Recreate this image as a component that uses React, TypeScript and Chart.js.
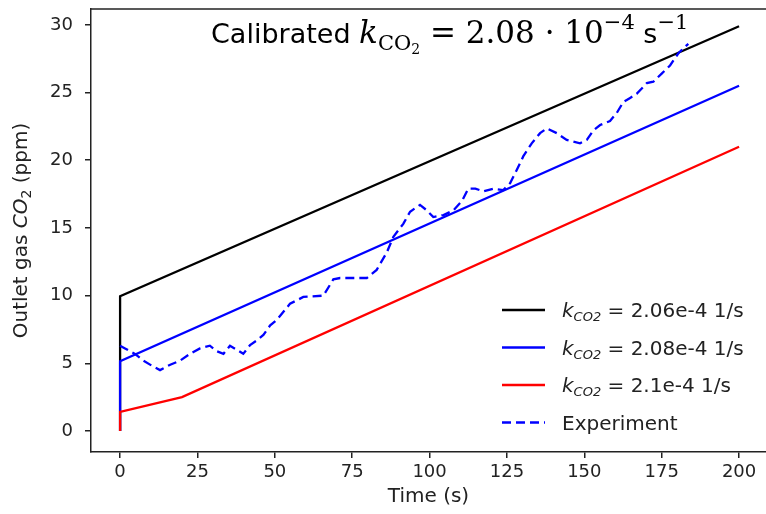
import React, { useEffect, useRef } from "react";
import { Chart, registerables } from "chart.js";

Chart.register(...registerables);

// ---- data ----
const xTicks = [0, 25, 50, 75, 100, 125, 150, 175, 200];
const yTicks = [0, 5, 10, 15, 20, 25, 30];

const tBlack = [0, 0, 200];
const vBlack = [0, 9.95, 29.9];

const tBlue = [0, 0, 200];
const vBlue = [0, 5.15, 25.5];

const tRed = [0, 0, 20, 200];
const vRed = [0, 1.42, 2.5, 21.0];

const tExp = [
  0, 1.6, 4.8, 7.5, 10.8, 12.9, 16.2, 19.4, 22.6, 25.8, 29, 31.2, 33.4, 35.5,
  37.7, 39.8, 42, 44.2, 46.3, 48.5, 50.6, 54.9, 59.2, 65.7, 68.9, 71.1, 79.7,
  82.9, 86.2, 88.3, 91.5, 93.7, 96.9, 99.1, 101.2, 104.5, 107.7, 110.5, 112.5,
  114.8, 117.4, 120.6, 123.8, 126, 128.2, 130.3, 133, 135.7, 137.9, 141.1,
  144.3, 148.6, 150.8, 152.9, 155.1, 158.3, 160.5, 162.6, 164.8, 166.9, 170.2,
  172.3, 175, 177.7, 180.4, 182.6, 183.6,
];
const vExp = [
  6.3, 6.1, 5.7, 5.2, 4.75, 4.5, 4.9, 5.2, 5.7, 6.1, 6.3, 5.9, 5.7, 6.3, 6.0,
  5.7, 6.35, 6.7, 7.1, 7.8, 8.2, 9.4, 9.9, 10.0, 11.2, 11.3, 11.3, 11.9, 13.2,
  14.35, 15.3, 16.2, 16.7, 16.3, 15.8, 15.95, 16.3, 17.0, 17.9, 17.9, 17.7,
  17.9, 17.8, 18.3, 19.3, 20.3, 21.25, 22.0, 22.35, 22.0, 21.5, 21.25, 21.5,
  22.2, 22.6, 22.9, 23.5, 24.3, 24.6, 24.9, 25.7, 25.8, 26.4, 27.0, 27.9, 28.4,
  28.6,
];

const seriesNames = ["2.06e-4", "2.08e-4", "2.1e-4", "Experiment"];
const seriesColors = ["#000000", "#0000ff", "#ff0000", "#0000ff"];

const toPts = (t: number[], v: number[]) => t.map((x, i) => ({ x, y: v[i] }));

type Run = { text: string; font: string; dy?: number };

function drawRuns(ctx: CanvasRenderingContext2D, x: number, y: number, runs: Run[], draw = true) {
  let cx = x;
  for (const r of runs) {
    ctx.font = r.font;
    if (draw) ctx.fillText(r.text, cx, y + (r.dy || 0));
    cx += ctx.measureText(r.text).width;
  }
  return cx - x;
}

const SANS = "'DejaVu Sans'";
const SERIF = "'DejaVu Serif'";

const decor = {
  id: "decor",
  afterDraw(chart: any) {
    const ctx: CanvasRenderingContext2D = chart.ctx;
    const a = chart.chartArea;
    ctx.save();
    // the right spine lies outside the picture: clear the right edge
    ctx.fillStyle = "#fff";
    ctx.fillRect(a.right - 16, a.top + 1, 40, a.bottom - a.top - 2);

    // top spine
    ctx.strokeStyle = "#222";
    ctx.lineWidth = 1.5;
    ctx.beginPath();
    ctx.moveTo(a.left, a.top);
    ctx.lineTo(a.right + 20, a.top);
    ctx.stroke();

    ctx.fillStyle = "#222";
    ctx.textAlign = "left";
    ctx.textBaseline = "alphabetic";

    // y label
    const yl: Run[] = [
      { text: "Outlet gas ", font: `20px ${SANS}` },
      { text: "CO", font: `italic 20px ${SANS}` },
      { text: "2", font: `14px ${SANS}`, dy: 4 },
      { text: " (ppm)", font: `20px ${SANS}` },
    ];
    ctx.save();
    ctx.translate(27, (a.top + a.bottom) / 2);
    ctx.rotate(-Math.PI / 2);
    const w = drawRuns(ctx, 0, 0, yl, false);
    drawRuns(ctx, -w / 2, 0, yl);
    ctx.restore();

    // legend
    const lx0 = 502, lx1 = 545, tx = 562, ly0 = 310, dyRow = 37.5;
    for (let i = 0; i < 4; i++) {
      const y = ly0 + i * dyRow;
      ctx.save();
      ctx.strokeStyle = seriesColors[i];
      ctx.lineWidth = 2.5;
      ctx.setLineDash(i === 3 ? [9, 5] : []);
      ctx.beginPath();
      ctx.moveTo(lx0, y);
      ctx.lineTo(lx1, y);
      ctx.stroke();
      ctx.restore();
      ctx.fillStyle = "#222";
      const runs: Run[] =
        i === 3
          ? [{ text: seriesNames[i], font: `20px ${SANS}` }]
          : [
              { text: "k", font: `italic 20px ${SANS}` },
              { text: "CO2", font: `italic 13px ${SANS}`, dy: 4 },
              { text: ` = ${seriesNames[i]} 1/s`, font: `20px ${SANS}` },
            ];
      drawRuns(ctx, tx, y + 7, runs);
    }

    // title
    ctx.fillStyle = "#000";
    const title: Run[] = [
      { text: "Calibrated ", font: `27px ${SANS}` },
      { text: "k", font: `italic 31px ${SERIF}` },
      { text: "CO", font: `21px ${SERIF}`, dy: 7 },
      { text: "2", font: `14px ${SERIF}`, dy: 11 },
      { text: " = 2.08 · 10", font: `31px ${SERIF}` },
      { text: "−4", font: `21px ${SERIF}`, dy: -14 },
      { text: " s", font: `27px ${SANS}` },
      { text: "−1", font: `21px ${SERIF}`, dy: -14 },
    ];
    drawRuns(ctx, 211, 43, title);
    ctx.restore();
  },
};

const zeroPad = (s: any) => {
  s.paddingTop = 0;
  s.paddingBottom = 0;
  s.paddingLeft = 0;
  s.paddingRight = 0;
};

export default function App() {
  const ref = useRef<HTMLCanvasElement | null>(null);
  useEffect(() => {
    document.body.style.margin = "0";
    document.body.style.overflow = "hidden";
    if (!ref.current) return;
    const tickFont = { family: "DejaVu Sans", size: 18 };
    const labelFont = { family: "DejaVu Sans", size: 20 };
    const chart = new Chart(ref.current, {
      type: "scatter",
      data: {
        datasets: [
          { label: seriesNames[0], data: toPts(tBlack, vBlack), borderColor: seriesColors[0], order: 3 },
          { label: seriesNames[1], data: toPts(tBlue, vBlue), borderColor: seriesColors[1], order: 2 },
          { label: seriesNames[2], data: toPts(tRed, vRed), borderColor: seriesColors[2], order: 1 },
          { label: seriesNames[3], data: toPts(tExp, vExp), borderColor: seriesColors[3], borderDash: [9, 5], order: 0 },
        ].map((d) => ({
          ...d,
          showLine: true,
          pointRadius: 0,
          borderWidth: 2.3,
          tension: 0,
          fill: false,
          backgroundColor: d.borderColor,
        })) as any,
      },
      options: {
        animation: false,
        responsive: false,
        devicePixelRatio: 1,
        layout: { padding: { top: 9, right: 0, bottom: 0, left: 0 } },
        plugins: { legend: { display: false }, tooltip: { enabled: false }, title: { display: false } },
        scales: {
          x: {
            type: "linear",
            min: -9.4,
            max: 208.7,
            afterBuildTicks: (s: any) => {
              s.ticks = xTicks.map((v) => ({ value: v }));
            },
            afterFit: (s: any) => {
              s.height = 62;
              zeroPad(s);
            },
            ticks: { font: tickFont, color: "#222", padding: 4, maxRotation: 0, autoSkip: false },
            grid: { drawOnChartArea: false, drawTicks: true, tickLength: 6, color: "#222", lineWidth: 1.5 },
            border: { display: true, color: "#222", width: 1.5 },
            title: { display: true, text: "Time (s)", font: labelFont, color: "#222", padding: { top: 0, bottom: 5 } },
          },
          y: {
            type: "linear",
            min: -1.55,
            max: 31.17,
            afterBuildTicks: (s: any) => {
              s.ticks = yTicks.map((v) => ({ value: v }));
            },
            afterFit: (s: any) => {
              s.width = 91;
              zeroPad(s);
            },
            ticks: { font: tickFont, color: "#222", padding: 12, autoSkip: false },
            grid: { drawOnChartArea: false, drawTicks: true, tickLength: 6, color: "#222", lineWidth: 1.5 },
            border: { display: true, color: "#222", width: 1.5 },
          },
        },
      } as any,
      plugins: [decor],
    });
    return () => chart.destroy();
  }, []);
  return (
    <div style={{ position: "fixed", left: 0, top: 0, width: 766, height: 514, background: "#fff", overflow: "hidden" }}>
      <canvas ref={ref} width={766} height={514} style={{ display: "block" }} />
    </div>
  );
}
